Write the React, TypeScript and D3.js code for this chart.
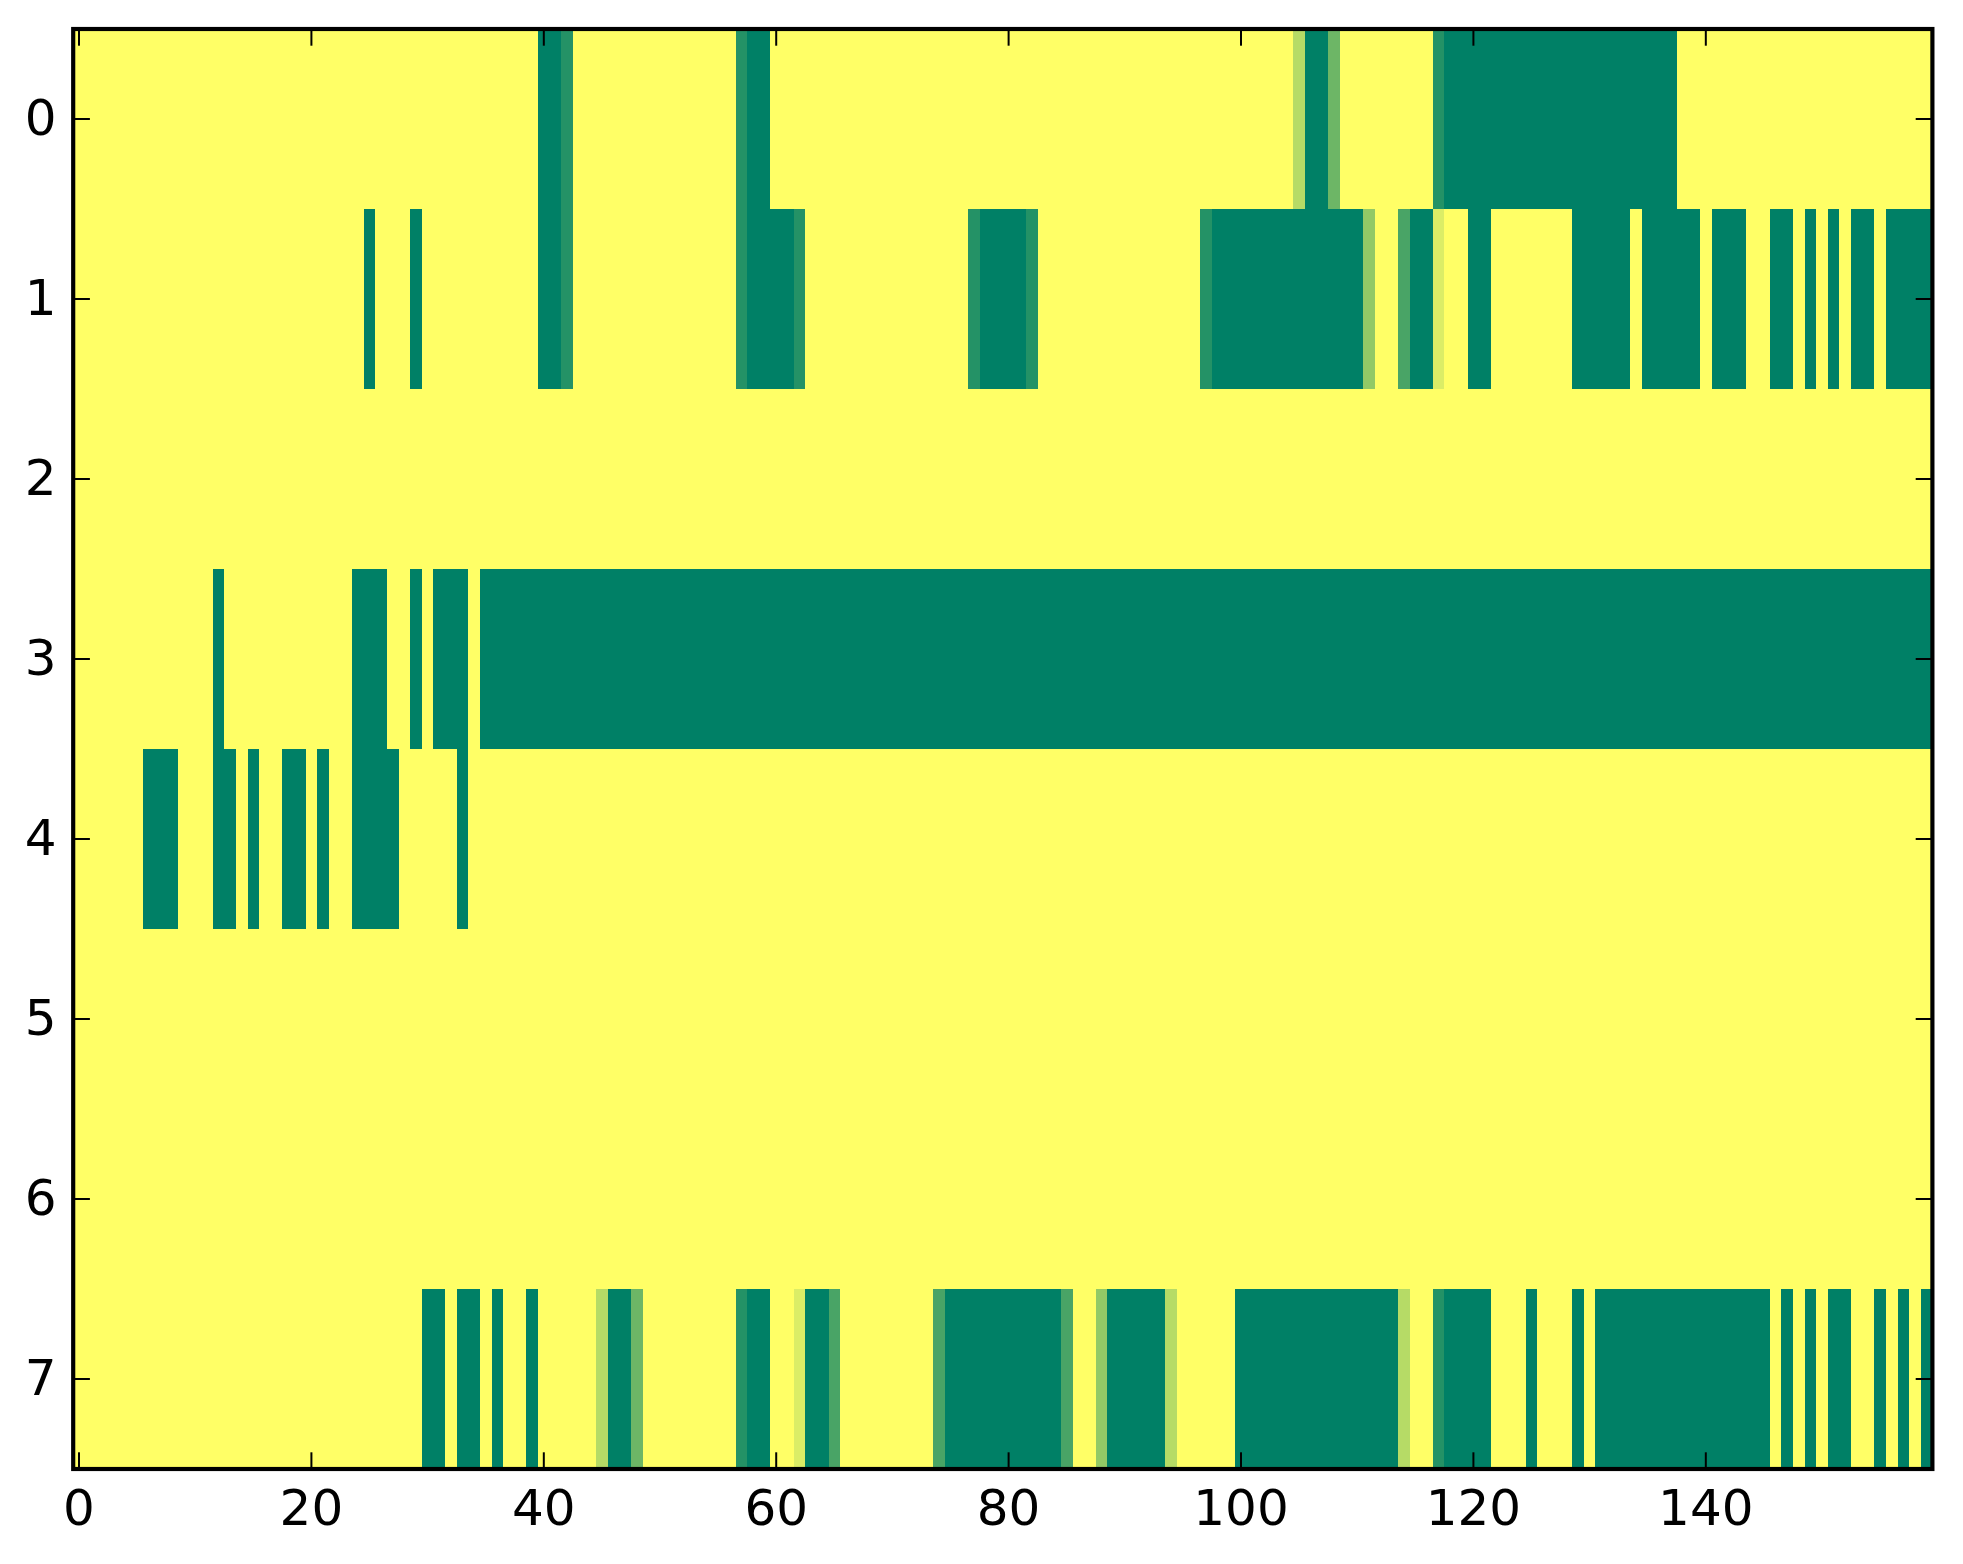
import React from "react";
import * as d3 from "d3";

// Each character is one cell: value = digit / 7 (0 = dark green, 7 = yellow)
const row0 = [
  "7777777777", "7777777777", "7777777777", "7777777777",
  "0017777777", "7777777100", "7777777777", "7777777777",
  "7777777777", "7777777777", "7777750037", "7777777100",
  "0000000000", "0000000077", "7777777777", "7777777777",
].join("");
const row1 = [
  "7777777777", "7777777777", "7777707770", "7777777777",
  "0017777777", "7777777100", "0017777777", "7777777100",
  "0017777777", "7777777100", "0000000000", "0477200677",
  "0077777770", "0000700000", "7000770070", "7070070000",
].join("");
const row2 = [
  "7777777777", "7777777777", "7777777777", "7777777777",
  "7777777777", "7777777777", "7777777777", "7777777777",
  "7777777777", "7777777777", "7777777777", "7777777777",
  "7777777777", "7777777777", "7777777777", "7777777777",
].join("");
const row3 = [
  "7777777777", "7707777777", "7777000770", "7000700000",
  "0000000000", "0000000000", "0000000000", "0000000000",
  "0000000000", "0000000000", "0000000000", "0000000000",
  "0000000000", "0000000000", "0000000000", "0000000000",
].join("");
const row4 = [
  "7777770007", "7700707700", "7077000077", "7770777777",
  "7777777777", "7777777777", "7777777777", "7777777777",
  "7777777777", "7777777777", "7777777777", "7777777777",
  "7777777777", "7777777777", "7777777777", "7777777777",
].join("");
const row5 = row2;
const row6 = row2;
const row7 = [
  "7777777777", "7777777777", "7777777777", "0070070770",
  "7777750037", "7777777100", "7760027777", "7777200000",
  "0000027740", "0000577777", "0000000000", "0000577100",
  "0077707770", "7000000000", "0000007070", "7007707070",
].join("");

const rowStrings = [row0, row1, row2, row3, row4, row5, row6, row7];
const xTicks = [0, 20, 40, 60, 80, 100, 120, 140];
const yTicks = [0, 1, 2, 3, 4, 5, 6, 7];

const W = 1963;
const H = 1564;
const FONT = "DejaVu Sans, sans-serif";

function summer(v: number): string {
  const idx = Math.min(255, Math.floor(v * 256));
  const t = idx / 255;
  return d3.rgb(Math.round(t * 255), Math.round((0.5 + 0.5 * t) * 255), 102).toString();
}

export default function App() {
  const nCols = rowStrings[0].length;
  const nRows = rowStrings.length;
  const x = d3.scaleLinear().domain([-0.5, nCols - 0.5]).range([73.2, 1932.4]);
  const y = d3.scaleLinear().domain([-0.5, nRows - 0.5]).range([29, 1469]);
  const data = rowStrings.map((s) => s.split("").map((ch) => Number(ch) / 7));
  const tickLen = 16.7;
  const x0 = x.range()[0], x1 = x.range()[1];
  const y0 = y.range()[0], y1 = y.range()[1];

  return (
    <div style={{ position: "absolute", left: 0, top: 0 }}>
      <svg width={W} height={H} viewBox={`0 0 ${W} ${H}`} style={{ display: "block", background: "#fff" }}>
        <g shapeRendering="crispEdges">
          {data.map((row, r) =>
            row.map((v, c) => (
              <rect
                key={`${r}-${c}`}
                x={x(c - 0.5)}
                y={y(r - 0.5)}
                width={x(c + 0.5) - x(c - 0.5) + 0.3}
                height={y(r + 0.5) - y(r - 0.5) + 0.3}
                fill={summer(v)}
              />
            ))
          )}
        </g>
        <g stroke="#000" strokeWidth={2}>
          {xTicks.map((t) => (
            <g key={`xt${t}`}>
              <line x1={x(t)} x2={x(t)} y1={y1} y2={y1 - tickLen} />
              <line x1={x(t)} x2={x(t)} y1={y0} y2={y0 + tickLen} />
            </g>
          ))}
          {yTicks.map((t) => (
            <g key={`yt${t}`}>
              <line x1={x0} x2={x0 + tickLen} y1={y(t)} y2={y(t)} />
              <line x1={x1} x2={x1 - tickLen} y1={y(t)} y2={y(t)} />
            </g>
          ))}
        </g>
        <rect x={x0} y={y0} width={x1 - x0} height={y1 - y0} fill="none" stroke="#000" strokeWidth={4.17} />
        <g fontFamily={FONT} fontSize={50} fill="#000">
          {xTicks.map((t) => (
            <text key={`xl${t}`} x={x(t)} y={1525} textAnchor="middle">
              {t}
            </text>
          ))}
          {yTicks.map((t) => (
            <text key={`yl${t}`} x={56.5} y={y(t) + 15.5} textAnchor="end">
              {t}
            </text>
          ))}
        </g>
      </svg>
    </div>
  );
}
